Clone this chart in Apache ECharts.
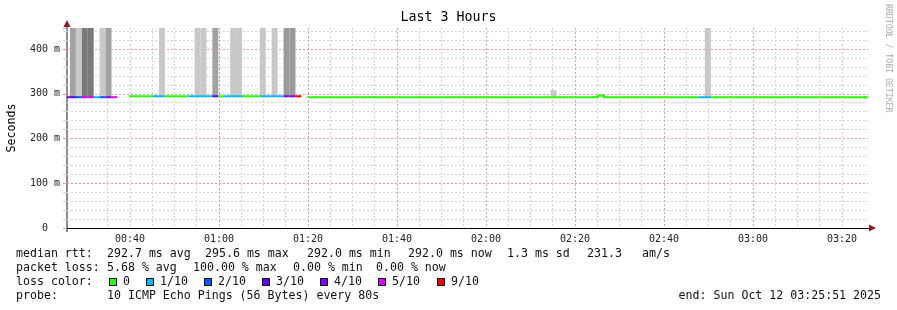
<!DOCTYPE html>
<html><head><meta charset="utf-8">
<script src="https://cdn.jsdelivr.net/npm/echarts@6/dist/echarts.min.js"></script>
<style>html,body{margin:0;padding:0;background:#fff}#c{width:897px;height:310px}</style>
</head><body><div id="c"></div>
<script>
// ---------------- DATA ----------------
// 80 s steps; times in seconds after local midnight, Sun Oct 12 2025
const stepSeconds = 80;
const firstStepStartSec = 25*60 + 11;   // 00:25:11 (step just before the window)
const windowStartSec = 25*60 + 51;      // 00:25:51
const windowEndSec = 3*3600 + 25*60 + 51; // 03:25:51
const xTickLabels = ['00:40', '01:00', '01:20', '01:40', '02:00', '02:20', '02:40', '03:00', '03:20'];

// median RTT per step (ms), null = no reply (100% loss)
const medianMs = [
  292.3, 292.3, 292.3, 292.3, 292.3, 292.3, 292.3, 292.3, 292.3, null,
  null,  294.4, 294.4, 294.4, 294.4, 294.4, 294.4, 294.4, 294.4, 294.4,
  294.4, 294.4, 294.4, 294.4, 294.4, 294.4, 294.4, 294.4, 294.4, 294.4,
  294.4, 294.4, 294.4, 294.4, 294.4, 294.4, 294.4, 294.4, 294.4, 294.4,
  null,  292.2, 292.2, 292.2, 292.2, 292.2, 292.2, 292.2, 292.2, 292.2,
  292.2, 292.2, 292.2, 292.2, 292.2, 292.2, 292.2, 292.2, 292.2, 292.2,
  292.2, 292.2, 292.2, 292.2, 292.2, 292.2, 292.2, 292.2, 292.2, 292.2,
  292.2, 292.2, 292.2, 292.2, 292.2, 292.2, 292.2, 292.2, 292.2, 292.2,
  292.2, 292.2, 292.2, 292.2, 292.2, 292.2, 292.2, 292.2, 292.2, 292.2,
  295.6, 292.2, 292.2, 292.2, 292.2, 292.2, 292.2, 292.2, 292.2, 292.2,
  292.2, 292.2, 292.2, 292.2, 292.2, 292.2, 292.2, 292.2, 292.2, 292.2,
  292.2, 292.2, 292.2, 292.2, 292.2, 292.2, 292.2, 292.2, 292.2, 292.2,
  292.2, 292.2, 292.2, 292.2, 292.2, 292.2, 292.2, 292.2, 292.2, 292.2,
  292.2, 292.2, 292.2, 292.2, 292.2, 292.0
];
// lost pings out of 10 per step
const lossTenths = [
  3, 3, 2, 5, 5, 1, 2, 4, 5, 10,
  10, 0, 0, 0, 0, 1, 1, 0, 0, 0,
  0, 1, 1, 1, 1, 3, 0, 1, 1, 1,
  0, 0, 0, 1, 1, 1, 1, 4, 4, 9,
  10, 0, 0, 0, 0, 0, 0, 0, 0, 0,
  0, 0, 0, 0, 0, 0, 0, 0, 0, 0,
  0, 0, 0, 0, 0, 0, 0, 0, 0, 0,
  0, 0, 0, 0, 0, 0, 0, 0, 0, 0,
  0, 0, 0, 0, 0, 0, 0, 0, 0, 0,
  0, 0, 0, 0, 0, 0, 0, 0, 0, 0,
  0, 0, 0, 0, 0, 0, 0, 1, 1, 0,
  0, 0, 0, 0, 0, 0, 0, 0, 0, 0,
  0, 0, 0, 0, 0, 0, 0, 0, 0, 0,
  0, 0, 0, 0, 0, 0
];
// smoke (ping spread) per step: step index, low ms, high ms, density level
const smokeStep  = [1,   2,   3,   4,   6,   7,   16,  22,  23,  25,  28,  29,  33,  35,  37,  38,  82,    90,    108];
const smokeLowMs = [291, 291, 291, 291, 291, 291, 293, 293, 293, 293, 293, 293, 293, 293, 293, 293, 292,   296,   291];
const smokeHighMs= [520, 520, 520, 520, 520, 520, 520, 520, 520, 520, 520, 520, 520, 520, 520, 520, 308.7, 299.5, 520];
const smokeLevel = [1,   0,   2,   2,   0,   1,   0,   0,   0,   1,   0,   0,   0,   0,   3,   3,   0,     0,     0];

const yTicksMs = [0, 100, 200, 300, 400];
const yMaxMs = 447;
const lossLevels = [0, 1, 2, 3, 4, 5, 9];
const lossLabels = ['0', '1/10', '2/10', '3/10', '4/10', '5/10', '9/10'];
const rttLegend = ['median rtt:', '292.7 ms avg', '295.6 ms max', '292.0 ms min', '292.0 ms now', '1.3 ms sd', '231.3', 'am/s'];
const lossLegend = ['packet loss:', '5.68 % avg', '100.00 % max', '0.00 % min', '0.00 % now'];
const probeLegend = ['probe:', '10 ICMP Echo Pings (56 Bytes) every 80s'];
const endLegend = 'end: Sun Oct 12 03:25:51 2025';
const titleText = 'Last 3 Hours';
const yName = 'Seconds';
const watermark = 'RRDTOOL / TOBI OETIKER';

// ---------------- STYLE ----------------
const lossColors = {0:'#26ff00',1:'#00b8ff',2:'#0059ff',3:'#5e00ff',4:'#7e00ff',5:'#dd00ff',9:'#ff0000'};
const smokeColors = ['#c8c8c8', '#a2a2a2', '#7a7a7a', '#9a9a9a'];
const MONO = '"DejaVu Sans Mono", monospace';
const majorGrid = 'rgba(240,100,100,0.5)';
const minorGrid = '#d2d2d2';

// ---------------- BUILD ----------------
const hmToSec = s => { const p = s.split(':'); return (+p[0]) * 3600 + (+p[1]) * 60; };
const xMajor = xTickLabels.map(hmToSec);
const xMinor = [];
for (let s = Math.ceil(windowStartSec / 300) * 300; s < windowEndSec; s += 300) xMinor.push(s);
const pad2 = n => (n < 10 ? '0' : '') + n;
const fmtHM = v => pad2(Math.floor(v / 3600)) + ':' + pad2(Math.floor((v % 3600) / 60));

const smokeData = smokeStep.map((s, i) => [firstStepStartSec + s * stepSeconds, firstStepStartSec + (s + 1) * stepSeconds, smokeLowMs[i], smokeHighMs[i], smokeLevel[i]]);
const medianData = [];
for (let i = 0; i < medianMs.length; i++) {
  if (medianMs[i] == null) continue;
  const prev = (i > 0 && medianMs[i-1] != null) ? medianMs[i-1] : -1;
  medianData.push([firstStepStartSec + i * stepSeconds, firstStepStartSec + (i + 1) * stepSeconds, medianMs[i], lossTenths[i], prev]);
}

function clipR(params){ const cs = params.coordSys; return {x:cs.x, y:cs.y, width:cs.width, height:cs.height}; }
function renderSmoke(params, api){
  const a = api.coord([api.value(0), api.value(3)]);
  const b = api.coord([api.value(1), api.value(2)]);
  const r = echarts.graphic.clipRectByRect({x:a[0], y:a[1], width:b[0]-a[0], height:b[1]-a[1]}, clipR(params));
  if (!r) return null;
  return {type:'rect', shape:r, style:{fill: smokeColors[api.value(4)]}};
}
function renderMedian(params, api){
  const v = api.value(2), pv = api.value(4);
  const a = api.coord([api.value(0), v]);
  const b = api.coord([api.value(1), v]);
  const color = lossColors[api.value(3)];
  const cr = clipR(params);
  const children = [];
  const h = echarts.graphic.clipRectByRect({x:a[0], y:a[1]-1, width:b[0]-a[0], height:2}, cr);
  if (h) children.push({type:'rect', shape:h, style:{fill:color}});
  if (pv > 0 && pv !== v) {
    const c = api.coord([api.value(0), pv]);
    const y0 = Math.min(a[1], c[1]) - 1, y1 = Math.max(a[1], c[1]) + 1;
    const r = echarts.graphic.clipRectByRect({x:a[0]-1, y:y0, width:2, height:y1-y0}, cr);
    if (r) children.push({type:'rect', shape:r, style:{fill:color}});
  }
  return {type:'group', children};
}

// legend graphics
const g = [];
const txt = (x, y, s, extra) => ({type:'text', x, y, silent:true,
  style:Object.assign({text:s, font:'11.6px ' + MONO, fill:'#111', verticalAlign:'middle', align:'left'}, extra || {})});
const rttX = [16, 107, 205, 307, 408, 507, 587, 642];
rttLegend.forEach((s, i) => g.push(txt(rttX[i], 254, s)));
const lossX = [16, 107, 193, 293, 376];
lossLegend.forEach((s, i) => g.push(txt(lossX[i], 268, s)));
g.push(txt(16, 282, 'loss color:'));
lossLevels.forEach((lv, i) => {
  const sx = Math.round(i === 0 ? 109 : 146 + (i - 1) * 58.1);
  g.push({type:'rect', silent:true, shape:{x:sx + 0.5, y:278.5, width:7, height:7}, style:{fill:lossColors[lv], stroke:'#000', lineWidth:1}});
  g.push(txt(sx + 14, 282, lossLabels[i]));
});
g.push(txt(16, 296, probeLegend[0]));
g.push(txt(107, 296, probeLegend[1]));
g.push(txt(881, 296, endLegend, {align:'right'}));
g.push({type:'text', x:888, y:4, rotation:-Math.PI/2, silent:true,
  style:{text:watermark, font:'8.2px ' + MONO, fill:'#adadad', verticalAlign:'middle', align:'left'}});
// axis lines & arrows
g.push({type:'line', silent:true, shape:{x1:67, y1:22, x2:67, y2:232}, style:{stroke:'#666', lineWidth:1.5}});
g.push({type:'line', silent:true, shape:{x1:64, y1:228.5, x2:871, y2:228.5}, style:{stroke:'#000', lineWidth:1}});
g.push({type:'polygon', silent:true, shape:{points:[[63.5,27],[70.5,27],[67,20]]}, style:{fill:'#8b1c1c'}});
g.push({type:'polygon', silent:true, shape:{points:[[869,224.5],[869,231.5],[876,228]]}, style:{fill:'#8b1c1c'}});

const chart = echarts.init(document.getElementById('c'), null, {renderer:'canvas'});
chart.setOption({
  animation:false,
  backgroundColor:'#fff',
  title:{text:titleText, left:'center', top:11, padding:0,
    textStyle:{fontFamily:MONO, fontSize:13.3, fontWeight:'normal', color:'#000'}},
  grid:{left:67, top:28, width:801, height:200, containLabel:false, outerBoundsMode:'none'},
  xAxis:[
    {type:'value', min:windowStartSec, max:windowEndSec, z:1,
      axisLine:{show:false},
      axisTick:{show:false, customValues:xMajor},
      axisLabel:{customValues:xMajor, formatter:fmtHM, fontFamily:MONO, fontSize:10, color:'#222', margin:6},
      splitLine:{show:true, showMinLine:false, showMaxLine:false, lineStyle:{color:majorGrid, width:1, type:[2,2]}}},
    {type:'value', min:windowStartSec, max:windowEndSec, z:0, position:'bottom',
      axisLine:{show:false}, axisTick:{show:false, customValues:xMinor}, axisLabel:{show:false, customValues:xMinor},
      splitLine:{show:true, showMinLine:false, showMaxLine:false, lineStyle:{color:minorGrid, width:1, type:[2,2]}}}
  ],
  yAxis:[
    {type:'value', min:0, max:yMaxMs, interval:100, z:1,
      name:yName, nameLocation:'middle', nameGap:49, nameRotate:90,
      nameTextStyle:{fontFamily:MONO, fontSize:11.6, color:'#000'},
      axisLine:{show:false}, axisTick:{show:true, length:4, lineStyle:{color:majorGrid}},
      axisLabel:{fontFamily:MONO, fontSize:10, color:'#222', margin:7,
        formatter:v => yTicksMs.indexOf(v) < 0 ? '' : (v === 0 ? '0  ' : v + ' m')},
      splitLine:{show:true, showMinLine:false, showMaxLine:false, lineStyle:{color:majorGrid, width:1, type:[2,2]}}},
    {type:'value', min:0, max:yMaxMs, interval:20, z:0, position:'left',
      axisLine:{show:false}, axisLabel:{show:false}, axisTick:{show:true, length:4, lineStyle:{color:minorGrid}},
      splitLine:{show:true, showMinLine:false, showMaxLine:false, lineStyle:{color:minorGrid, width:1, type:[2,2]}}}
  ],
  series:[
    {type:'custom', name:'smoke', xAxisIndex:0, yAxisIndex:0, renderItem:renderSmoke, data:smokeData,
      encode:{x:[0,1], y:[2,3]}, silent:true, z:2},
    {type:'custom', name:'median', xAxisIndex:0, yAxisIndex:0, renderItem:renderMedian, data:medianData,
      encode:{x:[0,1], y:2}, silent:true, z:3}
  ],
  graphic:g
});
</script></body></html>
